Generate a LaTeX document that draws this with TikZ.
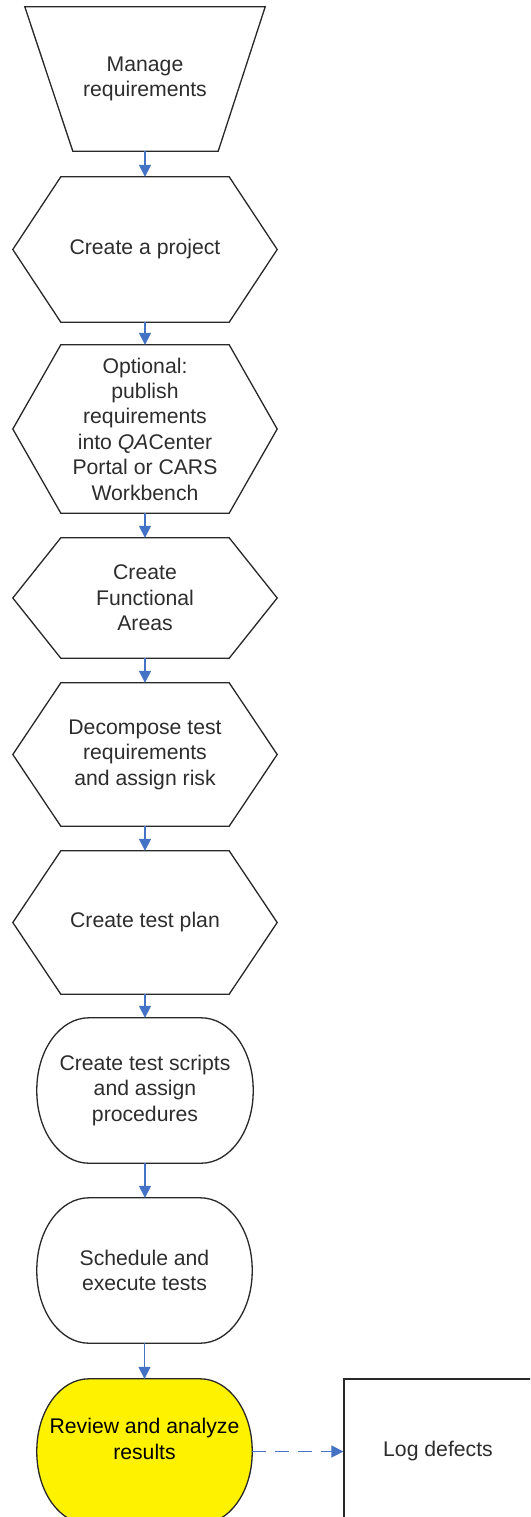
\documentclass[tikz,border=0pt]{standalone}
\usepackage{fontspec}
\setmainfont{Liberation Sans}
\usetikzlibrary{arrows.meta,backgrounds}
\definecolor{flowblue}{RGB}{68,114,196}
\definecolor{edgegray}{RGB}{40,40,40}
\definecolor{textgray}{RGB}{45,45,45}
\tikzset{
  box/.style={inner sep=0pt, align=center, text=textgray,
    font=\fontsize{21.2pt}{25.4pt}\selectfont},
  outline/.style={draw=edgegray, line width=1.3pt, fill=white},
  flow/.style={draw=flowblue, line width=1.5pt, -{Triangle[length=12pt,width=12pt]}},
  dashflow/.style={flow, dash pattern=on 14pt off 9pt},
}
\newcommand\hexout[2][]{\draw[outline,#1] ([xshift=48pt]#2.north west) -- ([xshift=-48pt]#2.north east) -- (#2.east) -- ([xshift=-48pt]#2.south east) -- ([xshift=48pt]#2.south west) -- (#2.west) -- cycle;}
\newcommand\pillout[2][]{\draw[outline,#1] ([xshift=52pt]#2.north west) -- ([xshift=-52pt]#2.north east) arc[start angle=90,end angle=0,x radius=52pt,y radius=72pt] -- ([yshift=72pt]#2.south east) arc[start angle=0,end angle=-90,x radius=52pt,y radius=72pt] -- ([xshift=52pt]#2.south west) arc[start angle=270,end angle=180,x radius=52pt,y radius=72pt] -- ([yshift=-72pt]#2.north west) arc[start angle=180,end angle=90,x radius=52pt,y radius=72pt] -- cycle;}
\begin{document}
\begin{tikzpicture}[x=1pt,y=1pt]
\clip (0,0) rectangle (530,-1517);
\node[box, minimum width=240pt, minimum height=144pt] (manage) at (145,-79) {Manage\\requirements};
\node[box, minimum width=264pt, minimum height=145pt] (project) at (145,-249.5) {Create a project};
\node[box, minimum width=264pt, minimum height=168pt] (optional) at (145,-429) {Optional:\\publish\\requirements\\into \textit{QA}Center\\Portal or CARS\\Workbench};
\node[box, minimum width=264pt, minimum height=120pt] (areas) at (145,-598) {Create\\Functional\\Areas};
\node[box, minimum width=264pt, minimum height=143pt] (decompose) at (145,-754.5) {Decompose test\\requirements\\and assign risk};
\node[box, minimum width=264pt, minimum height=143pt] (plan) at (145,-922.5) {Create test plan};
\node[box, minimum width=216pt, minimum height=145pt] (scripts) at (145,-1090.5) {Create test scripts\\and assign\\procedures};
\node[box, minimum width=215pt, minimum height=145pt] (schedule) at (144.5,-1270.5) {Schedule and\\execute tests};
\node[box, minimum width=215pt, minimum height=145pt, text=black] (review) at (144.5,-1451.5) {Review and analyze\\results\\~};
\node[box, draw=edgegray, line width=1.3pt, minimum width=188pt, minimum height=145pt] (log) at (438,-1451.5) {Log defects};
\begin{scope}[on background layer]
  \fill[white] (0,0) rectangle (530,-1517);
  \draw[outline] (manage.north west) -- (manage.north east) -- ([xshift=-47pt]manage.south east) -- ([xshift=48pt]manage.south west) -- cycle;
  \hexout{project}
  \hexout{optional}
  \hexout{areas}
  \hexout{decompose}
  \hexout{plan}
  \pillout{scripts}
  \pillout{schedule}
  \pillout[fill=yellow]{review}
\end{scope}
\draw[flow] (manage.south) -- (project.north);
\draw[flow] (project.south) -- (optional.north);
\draw[flow] (optional.south) -- (areas.north);
\draw[flow] (areas.south) -- (decompose.north);
\draw[flow] (decompose.south) -- (plan.north);
\draw[flow] (plan.south) -- (scripts.north);
\draw[flow] (scripts.south) -- (scripts.south |- schedule.north);
\draw[flow] (schedule.south) -- (review.north);
\draw[dashflow] (review.east) -- (log.west);
\end{tikzpicture}
\end{document}
